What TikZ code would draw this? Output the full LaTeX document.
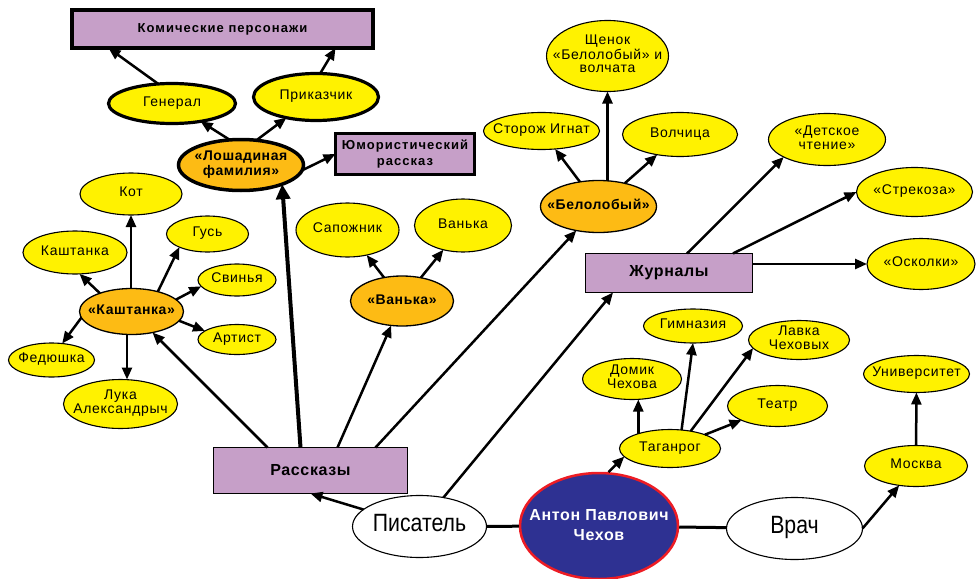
\documentclass[tikz,border=0pt]{standalone}
\usepackage{fontspec}
\setmainfont{Liberation Sans}
\newfontfamily\spfont[LetterSpace=5]{Liberation Sans}
\newfontfamily\spbfont[LetterSpace=4,BoldFont={Liberation Sans Bold}]{Liberation Sans}
\newfontfamily\widebfont[LetterSpace=8,BoldFont={Liberation Sans Bold}]{Liberation Sans}
\newfontfamily\bigfont[FakeStretch=0.85]{Liberation Sans}
\usetikzlibrary{shapes.geometric,arrows.meta,calc}
\definecolor{yelc}{HTML}{FFF200}
\definecolor{orgc}{HTML}{FDBB14}
\definecolor{purc}{HTML}{C69FC8}
\definecolor{navyc}{HTML}{2E3192}
\definecolor{redc}{HTML}{ED1C24}
\newcommand\zz[1]{\makebox[0pt]{\begin{tabular}{@{}c@{}}#1\end{tabular}}}
\begin{document}
\begin{tikzpicture}[x=1pt,y=-1pt,
  yel/.style={ellipse, draw=black, line width=1.1pt, fill=yelc, inner sep=0pt, outer sep=0pt,
    font=\spfont\fontsize{14}{13.5}\selectfont},
  yelthick/.style={yel, line width=3.2pt},
  org/.style={ellipse, draw=black, line width=1.3pt, fill=orgc, inner sep=0pt, outer sep=0pt,
    font=\spbfont\fontsize{14}{15}\selectfont\bfseries},
  wht/.style={ellipse, draw=black, line width=1.1pt, fill=white, inner sep=0pt, outer sep=0pt,
    font=\bigfont\fontsize{25}{26}\selectfont},
  pbox/.style={rectangle, draw=black, line width=1.2pt, fill=purc, inner sep=0pt, outer sep=0pt,
    font=\spbfont\fontsize{16}{17}\selectfont\bfseries},
  pboxthick/.style={pbox, line width=3.8pt, font=\widebfont\fontsize{13}{16}\selectfont\bfseries},
  arr/.style={line width=2.5pt, -{Triangle[length=12pt,width=10pt]}},
  arrthick/.style={line width=4pt, -{Triangle[length=15pt,width=14pt]}},
  link/.style={line width=3pt}
]
\useasboundingbox (0,0) rectangle (976,578);

% top-left group
\node[pboxthick, minimum width=301pt, minimum height=38pt] (komic) at (222.5,29) {Комические персонажи};
\node[yelthick, minimum width=127pt, minimum height=40pt] (gen) at (172,103.5) {\zz{Генерал}};
\node[yelthick, minimum width=125pt, minimum height=47pt] (prik) at (316,97) {\zz{Приказчик}};
\node[org, line width=3.5pt, minimum width=125pt, minimum height=51pt] (losh) at (241,165) {\zz{«Лошадиная\\фамилия»}};
\node[pboxthick, minimum width=139pt, minimum height=41pt] (humor) at (405,154) {\zz{Юмористический\\рассказ}};

% Kashtanka group
\node[yel, minimum width=102pt, minimum height=42pt] (kot) at (131,194) {\zz{Кот}};
\node[yel, minimum width=82pt, minimum height=36pt] (gus) at (207.5,234) {\zz{Гусь}};
\node[yel, minimum width=104pt, minimum height=43pt] (kash) at (75,252.5) {\zz{Каштанка}};
\node[yel, minimum width=78pt, minimum height=32pt] (svin) at (237,280) {\zz{Свинья}};
\node[org, minimum width=104pt, minimum height=46pt] (kasht) at (131.5,311.5) {\zz{«Каштанка»}};
\node[yel, minimum width=78pt, minimum height=30pt] (art) at (237,339.5) {\zz{Артист}};
\node[yel, minimum width=86pt, minimum height=34pt] (fed) at (51.5,360) {\zz{Федюшка}};
\node[yel, minimum width=114pt, minimum height=49pt] (luka) at (120.5,404) {\zz{Лука\\Александрыч}};

% Vanka group
\node[yel, minimum width=103pt, minimum height=54pt] (sapo) at (347.5,230) {\zz{Сапожник}};
\node[yel, minimum width=97pt, minimum height=53pt] (vanka) at (463,225.5) {\zz{Ванька}};
\node[org, minimum width=103pt, minimum height=50pt] (vankao) at (402,301) {\zz{«Ванька»}};

% Belolobyi group
\node[org, minimum width=116pt, minimum height=52pt] (belo) at (598.5,206.5) {\zz{«Белолобый»}};
\node[yel, minimum width=116pt, minimum height=37pt] (stor) at (541.5,131) {\zz{Сторож Игнат}};
\node[yel, minimum width=115pt, minimum height=44pt] (volch) at (680,134.5) {\zz{Волчица}};
\node[yel, minimum width=122pt, minimum height=71pt] (shch) at (607.5,56) {\zz{Щенок\\«Белолобый» и\\волчата}};

% Journals
\node[pbox, minimum width=167pt, minimum height=39pt] (zhur) at (669,273) {Журналы};
\node[yel, minimum width=117pt, minimum height=52pt] (det) at (827,139.5) {\zz{«Детское\\чтение»}};
\node[yel, minimum width=116pt, minimum height=49pt] (strek) at (914.5,192) {\zz{«Стрекоза»}};
\node[yel, minimum width=108pt, minimum height=51pt] (osk) at (921,264) {\zz{«Осколки»}};

% Taganrog
\node[yel, minimum width=99pt, minimum height=34pt] (gymn) at (693,326) {\zz{Гимназия}};
\node[yel, minimum width=101pt, minimum height=39pt] (lavka) at (799,340) {\zz{Лавка\\Чеховых}};
\node[yel, minimum width=99pt, minimum height=41pt] (domik) at (632,379) {\zz{Домик\\Чехова}};
\node[yel, minimum width=100pt, minimum height=41pt] (teatr) at (777.5,406) {\zz{Театр}};
\node[yel, minimum width=101pt, minimum height=38pt] (tag) at (670,448.5) {\zz{Таганрог}};
\node[yel, minimum width=106pt, minimum height=37pt] (univ) at (916.5,374) {\zz{Университет}};
\node[yel, minimum width=103pt, minimum height=41pt] (mosk) at (916,466) {\zz{Москва}};

% bottom
\node[pbox, minimum width=194pt, minimum height=46pt] (rass) at (310.5,470.5) {Рассказы};
\node[wht, minimum width=134pt, minimum height=62pt] (pis) at (419.5,526.5) {\zz{Писатель}};
\node[wht, minimum width=136pt, minimum height=62pt] (vrach) at (794.5,528.5) {\zz{Врач}};
\node[ellipse, draw=redc, line width=2.5pt, fill=navyc, inner sep=0pt, minimum width=158pt, minimum height=106pt,
  text=white, font=\spbfont\fontsize{16}{20}\selectfont\bfseries] (chek) at (599,526) {\zz{Антон Павлович\\Чехов}};

% connectors
\draw[link] (pis) -- (chek);
\draw[link] (chek) -- (vrach);
\draw[arr] (pis) -- (rass.south);
\draw[arr] (pis) -- ([xshift=-56pt]zhur.south);
\draw[arr] ([xshift=-43pt]rass.north) -- (kasht);
\draw[arrthick] ([xshift=-10pt]rass.north) -- (losh.-25);
\draw[arr] ([xshift=27pt]rass.north) -- (vankao);
\draw[arr] ([xshift=65pt]rass.north) -- (belo);

\draw[arr] (losh.114) -- (gen.-32);
\draw[arr] (losh.58) -- (prik.215);
\draw[arr] (losh.-5) -- (humor.west);
\draw[arr] (gen.125) -- ([xshift=-114pt]komic.south);
\draw[arr] (prik.80) -- ([xshift=113pt]komic.south);

\draw[arr] (kot |- kasht.north) -- (kot.south);
\draw[arr] (kasht.150) -- (kash.-78);
\draw[arr] (kasht.37) -- (gus.205);
\draw[arr] (kasht.15) -- (svin.190);
\draw[arr] (kasht.-11) -- (art.165);
\draw[arr] (kasht.187) -- (fed.57);
\draw[arr] ([xshift=-4.5pt]kasht.south) -- ([xshift=6.5pt]luka.north);

\draw[arr] (vankao) -- (sapo);
\draw[arr] (vankao) -- (vanka);

\draw[arr] (belo) -- (stor);
\draw[arr] (shch |- belo.north) -- (shch.south);
\draw[arr] (belo) -- (volch);

\draw[arr] ([xshift=18pt]zhur.north) -- (det.202);
\draw[arr] ([xshift=64pt]zhur.north) -- (strek.west);
\draw[arr] (zhur.east |- osk) -- (osk);

\draw[arr] (chek.80) -- (tag.190);
\draw[arr] (tag.155) -- (tag.155 |- domik.south);
\draw[arr] (tag.58) -- (gymn.south);
\draw[arr] (tag.40) -- (lavka.190);
\draw[arr] (tag) -- (teatr);
\draw[arr] (vrach.east) -- (mosk.229);
\draw[arr] (mosk) -- (univ);
\end{tikzpicture}
\end{document}
